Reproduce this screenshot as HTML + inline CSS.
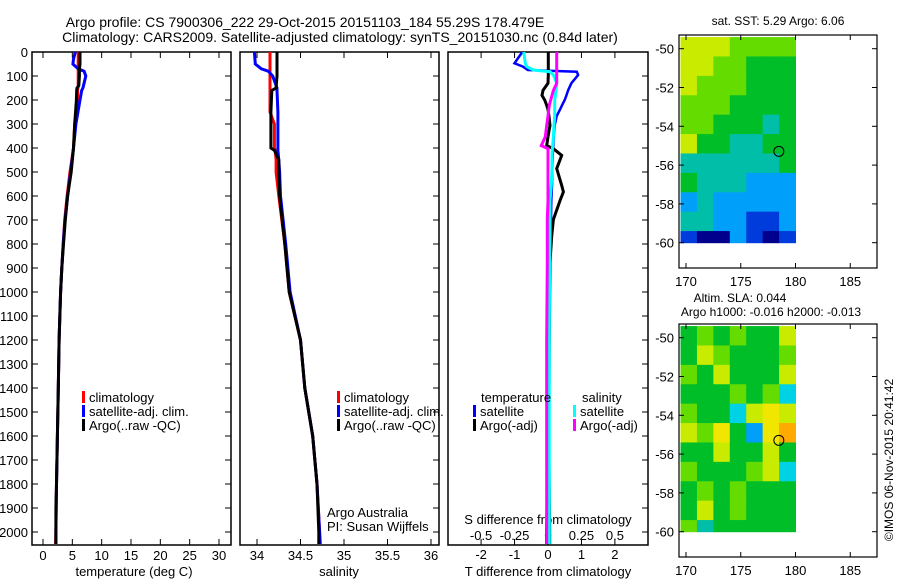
<!DOCTYPE html>
<html><head><meta charset="utf-8"><style>
html,body{margin:0;padding:0;background:#fff;}
svg{display:block;font-family:"Liberation Sans",sans-serif;}
</style></head><body>
<svg id="c" width="900" height="580" viewBox="0 0 900 580" xmlns="http://www.w3.org/2000/svg">
<text x="305" y="27" font-size="14" text-anchor="middle">Argo profile: CS 7900306_222 29-Oct-2015 20151103_184 55.29S 178.479E</text>
<text x="340" y="42" font-size="14" text-anchor="middle">Climatology: CARS2009. Satellite-adjusted climatology: synTS_20151030.nc (0.84d later)</text>
<g id="g"></g>
</svg>
<script>
// ---- data ----
const tDepth = [0,30,50,70,80,100,140,150,160,200,300,400,500,600,700,800,900,1000,1200,1400,1600,1800,1900,2000,2050];
const tClim  = [6.0,6.0,6.0,6.0,6.0,6.0,6.0,5.95,5.9,5.9,5.4,5.2,4.6,4.1,3.7,3.45,3.2,3.0,2.75,2.6,2.45,2.3,2.25,2.2,2.15];
const tSat   = [5.5,5.2,5.1,6.0,7.0,7.3,6.9,6.8,6.6,6.3,5.6,5.2,4.7,4.2,3.75,3.45,3.2,3.0,2.75,2.6,2.45,2.3,2.25,2.2,2.2];
const tArgo  = [6.3,6.3,6.3,6.2,6.2,6.2,6.1,5.8,5.75,5.7,5.4,5.2,4.8,4.2,3.8,3.5,3.2,3.0,2.75,2.6,2.45,2.3,2.2,2.2,2.2];
const sDepth = [0,50,70,80,100,150,160,250,300,400,410,450,500,600,800,1000,1200,1400,1600,1800,2000,2050];
const sClim  = [34.15,34.15,34.15,34.15,34.15,34.15,34.15,34.15,34.2,34.2,34.21,34.22,34.22,34.25,34.32,34.37,34.5,34.55,34.64,34.69,34.72,34.73];
const sSat   = [33.97,33.98,34.05,34.13,34.18,34.23,34.23,34.24,34.24,34.24,34.24,34.25,34.26,34.27,34.33,34.38,34.5,34.55,34.64,34.69,34.72,34.72];
const sArgo  = [34.23,34.23,34.23,34.23,34.23,34.22,34.17,34.16,34.16,34.16,34.2,34.25,34.25,34.26,34.32,34.37,34.5,34.55,34.64,34.69,34.71,34.71];
const dDepth = [0,4,47,61,75,82,96,130,160,181,200,222,240,267,306,353,390,403,431,486,556,583,619,698,767,878,1200,1600,2000,2050];
const dTsat  = [-0.79,-0.79,-1.0,-0.75,-0.6,0.86,0.9,0.7,0.6,0.55,0.5,0.42,0.36,0.26,0.2,0.17,0.16,0.15,0.14,0.13,0.12,0.11,0.1,0.09,0.08,0.06,0.03,0.0,-0.05,-0.05];
const dTargo = [0.01,0.01,0.01,0.01,0.01,0.01,0.01,0.0,-0.15,-0.18,-0.1,-0.04,0.0,0.03,0.06,0.0,-0.04,0.16,0.41,0.26,0.41,0.46,0.36,0.16,0.11,0.06,0.04,0.02,0.05,0.05];
const dSsat  = [-0.18,-0.18,-0.17,-0.16,-0.11,0.015,0.04,0.065,0.06,0.055,0.05,0.05,0.05,0.05,0.045,0.04,0.035,0.033,0.03,0.03,0.025,0.02,0.015,0.015,0.015,0.012,0.01,0.01,0.01,0.01];
const dSargo = [0.065,0.065,0.065,0.065,0.065,0.065,0.065,0.065,0.04,0.03,0.02,0.01,0.005,0.0,-0.01,-0.02,-0.05,0.0,0.0,0.0,0.0,0.0,0.0,-0.005,-0.005,-0.005,-0.01,-0.01,-0.01,-0.01];
const depthTicks = [0,100,200,300,400,500,600,700,800,900,1000,1100,1200,1300,1400,1500,1600,1700,1800,1900,2000];
const tTicks = [0,5,10,15,20,25,30];
const sTicks = [34,34.5,35,35.5,36];
const sTickLabels = ["34","34.5","35","35.5","36"];
const dTTicks = [-2,-1,0,1,2];
const dSTicks = [-0.5,-0.25,0,0.25,0.5];
const dSTickLabels = ["-0.5","-0.25","0","0.25","0.5"];
const lonTicks = [170,175,180,185];
const latTicks = [-50,-52,-54,-56,-58,-60];
const palette = ["#00008c","#003cdc","#00a0fa","#00bea8","#00be28","#64dc00","#c8eb00","#f0e600","#ffaa00","#00d2e6"];
const cellLon = [169.5,171,172.5,174,175.5,177,178.5];
const cellLat = [-49.4,-50.4,-51.4,-52.4,-53.4,-54.4,-55.4,-56.4,-57.4,-58.4,-59.4];
const sstGrid = [
[6,6,6,5,5,5,5],[6,6,5,5,4,4,4],[6,5,5,5,4,4,4],[5,5,5,4,4,4,4],[5,5,4,4,4,3,4],
[6,4,4,3,3,4,4],[3,3,3,3,3,3,4],[4,3,3,3,2,2,2],[2,3,2,2,2,2,2],[3,3,2,2,1,1,2],[1,0,0,2,1,0,1]];
const slaGrid = [
[4,5,4,5,4,4,6],[4,6,5,4,4,4,5],[5,4,6,4,4,4,6],[4,4,4,5,4,5,9],[5,4,4,9,6,7,6],
[6,5,7,4,2,7,8],[4,4,6,4,4,6,4],[5,4,4,4,5,6,9],[4,5,4,5,4,4,4],[4,6,4,5,4,4,4],[5,3,4,4,4,4,4]];
const argoLon = [178.479];
const argoLat = [-55.29];

// ---- helpers ----
const NS="http://www.w3.org/2000/svg";
const G=document.getElementById('g');
function mk(tag,attrs,parent){const e=document.createElementNS(NS,tag);for(const k in attrs)e.setAttribute(k,attrs[k]);(parent||G).appendChild(e);return e;}
function txt(x,y,s,anchor,size,parent){const e=mk('text',{x:x,y:y,'font-size':size||13,'text-anchor':anchor||'middle'},parent);e.textContent=s;return e;}
const yD = d => 52 + d*0.24;
const PB = 545;
const xT = v => 43 + v*(219-43)/30;
const xS = v => 257 + (v-34)*(431-257)/2;
const xDT = v => 548 + v*33.45;
const xDS = v => 548 + v*133.8;

function line(xs, ys, xf, color, w, name){
  const pts = xs.map((v,i)=>xf(v).toFixed(1)+','+yD(ys[i]).toFixed(1)).join(' ');
  const p = mk('polyline',{points:pts,fill:'none',stroke:color,'stroke-width':w});
  
  
}

function panel(x0,x1,name){
  const r = mk('rect',{x:x0,y:52,width:x1-x0,height:PB-52,fill:'none',stroke:'#000','stroke-width':1.5});
  
  
  depthTicks.forEach(d=>{ mk('line',{x1:x1-6,x2:x1,y1:yD(d),y2:yD(d),stroke:'#000'}); });
}
// panel 1
panel(32,231,'temperature-panel');
depthTicks.forEach(d=>{
  mk('line',{x1:32,x2:38,y1:yD(d),y2:yD(d),stroke:'#000'});
  const t=txt(28,yD(d)+5,String(d),'end',13);
  
  
});
tTicks.forEach(v=>{
  mk('line',{x1:xT(v),x2:xT(v),y1:PB,y2:PB-6,stroke:'#000'});
  mk('line',{x1:xT(v),x2:xT(v),y1:52,y2:58,stroke:'#000'});
  const t=txt(xT(v),560,String(v));
  
  
});
const xl1=txt(134,576,'temperature (deg C)');


line(tClim,tDepth,xT,'#ff0000',3,'temp-climatology-line');
line(tSat,tDepth,xT,'#0000ff',3,'temp-satellite-line');
line(tArgo,tDepth,xT,'#000',3,'temp-argo-line');

// panel 2
panel(240,439,'salinity-panel');
sTicks.forEach((v,i)=>{
  mk('line',{x1:xS(v),x2:xS(v),y1:PB,y2:PB-6,stroke:'#000'});
  mk('line',{x1:xS(v),x2:xS(v),y1:52,y2:58,stroke:'#000'});
  const t=txt(xS(v),560,sTickLabels[i]);
  
  
});
const xl2=txt(339,576,'salinity');


line(sClim,sDepth,xS,'#ff0000',3,'sal-climatology-line');
line(sSat,sDepth,xS,'#0000ff',3,'sal-satellite-line');
line(sArgo,sDepth,xS,'#000',3,'sal-argo-line');

// panel 3
panel(448,648,'difference-panel');
dTTicks.forEach(v=>{
  mk('line',{x1:xDT(v),x2:xDT(v),y1:PB,y2:PB-6,stroke:'#000'});
  mk('line',{x1:xDT(v),x2:xDT(v),y1:52,y2:58,stroke:'#000'});
  const t=txt(xDT(v),559,String(v));
  
  
});
dSTicks.forEach((v,i)=>{
  const t=txt(xDS(v),540,dSTickLabels[i]);
  
  
});
const xl3=txt(548,576,'T difference from climatology');


const xl4=txt(548,524,'S difference from climatology');


line(dTsat,dDepth,xDT,'#0000ff',2.5,'t-diff-satellite-line');
line(dTargo,dDepth,xDT,'#000',3,'t-diff-argo-line');
line(dSsat,dDepth,xDS,'#00ffff',3,'s-diff-satellite-line');
line(dSargo,dDepth,xDS,'#ff00ff',3,'s-diff-argo-line');

// legends
function legEntry(x,y,color,label,name){
  mk('rect',{x:x,y:y-11,width:3,height:12,fill:color});
  const t=txt(x+7,y,label,'start',13);
  
  
}
legEntry(82,402,'#ff0000','climatology','legend-climatology');
legEntry(82,416,'#0000ff','satellite-adj. clim.','legend-satellite-adj');
legEntry(82,430,'#000','Argo(..raw -QC)','legend-argo');
legEntry(337,402,'#ff0000','climatology','legend-climatology-2');
legEntry(337,416,'#0000ff','satellite-adj. clim.','legend-satellite-adj-2');
legEntry(337,430,'#000','Argo(..raw -QC)','legend-argo-2');
const lt1=txt(481,402,'temperature','start',13);


const lt2=txt(582,402,'salinity','start',13);


legEntry(473,416,'#0000ff','satellite','legend-t-satellite');
legEntry(473,430,'#000','Argo(-adj)','legend-t-argo');
legEntry(573,416,'#00ffff','satellite','legend-s-satellite');
legEntry(573,430,'#ff00ff','Argo(-adj)','legend-s-argo');
const a1=txt(327,517,'Argo Australia','start',13);


const a2=txt(327,531,'PI: Susan Wijffels','start',13);



// maps
function map(top, grid, name){
  const left=679,right=877,bottom=top+233;
  const lat0=top+13.7; // y of -50
  const xL = lon => 686 + (lon-170)*10.95;
  const yL = lat => lat0 + (-50-lat)*19.4;
  const g = mk('g',{});
  
  
  grid.forEach((row,ri)=>{
    row.forEach((v,ci)=>{
      const la0=cellLat[ri], la1=ri+1<cellLat.length?cellLat[ri+1]:-60;
      const lo0=cellLon[ci], lo1=ci+1<cellLon.length?cellLon[ci+1]:180;
      const y0=Math.max(top,yL(la0));
      const c=mk('rect',{x:xL(lo0),y:y0,width:xL(lo1)-xL(lo0)+0.5,height:yL(la1)-y0+0.5,fill:palette[v]},g);
      
      
    });
  });
  mk('rect',{x:left,y:top,width:right-left,height:bottom-top,fill:'none',stroke:'#000','stroke-width':1.2},g);
  lonTicks.forEach(l=>{
    mk('line',{x1:xL(l),x2:xL(l),y1:bottom,y2:bottom-5,stroke:'#000'},g);
    mk('line',{x1:xL(l),x2:xL(l),y1:top,y2:top+5,stroke:'#000'},g);
    const t=txt(xL(l),bottom+18,String(l),'middle',13,g);
    
    
  });
  latTicks.forEach(l=>{
    mk('line',{x1:left,x2:left+5,y1:yL(l),y2:yL(l),stroke:'#000'},g);
    mk('line',{x1:right,x2:right-5,y1:yL(l),y2:yL(l),stroke:'#000'},g);
    const t=txt(674,yL(l)+5,String(l),'end',13,g);
    
    
  });
  const c=mk('circle',{cx:xL(argoLon[0]),cy:yL(argoLat[0]),r:5,fill:'none',stroke:'#000','stroke-width':1},g);
  
  
}
map(35, sstGrid, 'sst-map');
map(324, slaGrid, 'sla-map');
const m1=txt(778,25,'sat. SST: 5.29 Argo: 6.06','middle',12);


const m2=txt(740,302,'Altim. SLA: 0.044','middle',12);


const m3=txt(771,316,'Argo h1000: -0.016 h2000: -0.013','middle',12);


const cp=txt(0,0,'©IMOS 06-Nov-2015 20:41:42','middle',12);
cp.setAttribute('transform','translate(893,460) rotate(-90)');


</script>
</body></html>
